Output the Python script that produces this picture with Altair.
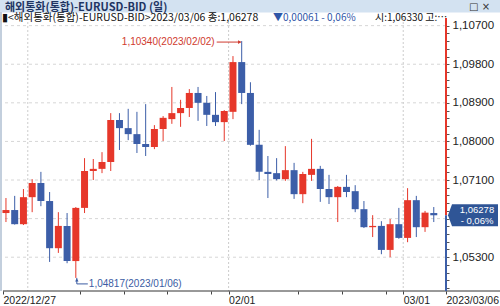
import altair as alt
import pandas as pd
import numpy as np

# ---------------- data ----------------
dates = ["2022/12/27", "2022/12/28", "2022/12/29", "2022/12/30",
         "2023/01/02", "2023/01/03", "2023/01/04", "2023/01/05", "2023/01/06",
         "2023/01/09", "2023/01/10", "2023/01/11", "2023/01/12", "2023/01/13",
         "2023/01/16", "2023/01/17", "2023/01/18", "2023/01/19", "2023/01/20",
         "2023/01/23", "2023/01/24", "2023/01/25", "2023/01/26", "2023/01/27",
         "2023/01/30", "2023/01/31", "2023/02/01", "2023/02/02", "2023/02/03",
         "2023/02/06", "2023/02/07", "2023/02/08", "2023/02/09", "2023/02/10",
         "2023/02/13", "2023/02/14", "2023/02/15", "2023/02/16", "2023/02/17",
         "2023/02/20", "2023/02/21", "2023/02/22", "2023/02/23", "2023/02/24",
         "2023/02/27", "2023/02/28", "2023/03/01", "2023/03/02", "2023/03/03",
         "2023/03/06"]
opens = [1.0633, 1.0640, 1.0607, 1.0670, 1.0703, 1.0661, 1.0551, 1.0603, 1.0521,
         1.0645, 1.0731, 1.0736, 1.0752, 1.0850, 1.0831, 1.0817, 1.0794, 1.0787,
         1.0829, 1.0852, 1.0866, 1.0878, 1.0913, 1.0890, 1.0862, 1.0845, 1.0869,
         1.0985, 1.0913, 1.0792, 1.0729, 1.0726, 1.0712, 1.0733, 1.0677, 1.0722,
         1.0736, 1.0689, 1.0670, 1.0694, 1.0684, 1.0642, 1.0600, 1.0603, 1.0547,
         1.0607, 1.0575, 1.0663, 1.0600, 1.06330]
highs = [1.0668, 1.0673, 1.0689, 1.0712, 1.0729, 1.0682, 1.0635, 1.0633, 1.0647,
         1.0761, 1.0759, 1.0775, 1.0866, 1.0866, 1.0876, 1.0869, 1.0887, 1.0838,
         1.0859, 1.0927, 1.0897, 1.0922, 1.0927, 1.0906, 1.0915, 1.0873, 1.0999,
         1.1034, 1.0938, 1.0827, 1.0766, 1.0761, 1.0789, 1.0750, 1.0729, 1.0806,
         1.0743, 1.0722, 1.0696, 1.0722, 1.0698, 1.0661, 1.0628, 1.0614, 1.0619,
         1.0645, 1.0691, 1.0673, 1.0638, 1.0647]
lows = [1.0612, 1.0606, 1.0605, 1.0635, 1.0649, 1.0519, 1.0540, 1.0516, 1.04817,
        1.0633, 1.0710, 1.0726, 1.0731, 1.0780, 1.0803, 1.0773, 1.0766, 1.0782,
        1.0801, 1.0841, 1.0834, 1.0857, 1.0848, 1.0836, 1.0836, 1.0801, 1.0852,
        1.0887, 1.0790, 1.0710, 1.0668, 1.0709, 1.0708, 1.0666, 1.0656, 1.0708,
        1.0659, 1.0654, 1.0612, 1.0670, 1.0635, 1.0598, 1.0577, 1.0537, 1.0530,
        1.0573, 1.0565, 1.0577, 1.0589, 1.0612]
closes = [1.0640, 1.0607, 1.0670, 1.0703, 1.0661, 1.0551, 1.0603, 1.0521, 1.0645,
          1.0731, 1.0736, 1.0752, 1.0850, 1.0831, 1.0817, 1.0794, 1.0787, 1.0829,
          1.0855, 1.0866, 1.0878, 1.0913, 1.0890, 1.0862, 1.0845, 1.0871, 1.0985,
          1.0913, 1.0792, 1.0729, 1.0724, 1.0712, 1.0733, 1.0677, 1.0724, 1.0736,
          1.0689, 1.0670, 1.0694, 1.0682, 1.0642, 1.0600, 1.0603, 1.0547, 1.0607,
          1.0575, 1.0663, 1.0600, 1.06339, 1.06278]

y_labels = [1.053, 1.062, 1.071, 1.080, 1.089, 1.098, 1.107]
y_minor_step = 0.0018
x_first_label = "2022/12/27"
x_last_label = "2023/03/06"
x_month_dates = ["2023/02/01", "2023/03/01"]
x_month_labels = ["02/01", "03/01"]
x_week_dates = ["2023/01/09", "2023/01/16", "2023/01/23", "2023/01/30",
                "2023/02/13", "2023/02/20", "2023/02/27"]
vgrid_dates = ["2022/12/30", "2023/02/01", "2023/03/01"]

title_text = "해외통화(통합)-EURUSD-BID (일)"
info_main = "▮<해외통화(통합)-EURUSD-BID>2023/03/06 종:1,06278"
info_change = "▼0,00061   - 0,06%"
info_rest = "시:1,06330 고:1,06470"
hi_date, hi_label = "2023/02/02", "1,10340(2023/02/02)"
lo_date, lo_label = "2023/01/06", "1,04817(2023/01/06)"
box_line1, box_line2 = "1,06278", "- 0,06%"

# ---------------- layout / style ----------------
W, H = 443, 273
Y_DOM = [1.04512, 1.10878]
X_DOM = [-0.34, 50.4]
RED = "#e6372a"
BLUE = "#3c5ea8"
HI_COL = "#cf3a2e"
LO_COL = "#3b5ca3"
BOX_COL = "#2f5596"
NUMF = "Liberation Sans"
KRF = "Noto Sans CJK KR"

idx = {d: i for i, d in enumerate(dates)}
df = pd.DataFrame({"date": dates, "open": opens, "high": highs,
                   "low": lows, "close": closes})
df["i"] = np.arange(len(df))
df["dir"] = np.where(df["close"] >= df["open"], "up", "down")

xs = alt.Scale(domain=X_DOM, nice=False, zero=False, padding=0)
ys = alt.Scale(domain=Y_DOM, nice=False, zero=False, padding=0)
col = alt.Color("dir:N", scale=alt.Scale(domain=["up", "down"], range=[RED, BLUE]),
                legend=None)

# x axis ticks / labels
x_pos_labels = [(X_DOM[0], x_first_label)] + \
    [(idx[d] - 0.5, l) for d, l in zip(x_month_dates, x_month_labels)] + \
    [(X_DOM[1], x_last_label)]
x_vals = [p for p, _ in x_pos_labels] + [idx[d] - 0.5 for d in x_week_dates]
x_expr = ""
for p, l in x_pos_labels:
    x_expr += f"datum.value == {p} ? '{l}' : "
x_expr += "''"
x_axis = alt.Axis(values=x_vals, labelExpr=x_expr, title=None, grid=False,
                  domain=False, tickSize=3, tickColor="#444", labelAlign="left",
                  labelFlush=False, labelOverlap=False, labelBound=False,
                  labelFont=NUMF, labelFontSize=10.5, labelColor="#222",
                  labelPadding=1)

# y axis with minor ticks
base = y_labels[0] - 5 * y_minor_step
y_vals = [round(base + k * y_minor_step, 4) for k in range(45)]
y_vals = [v for v in y_vals if Y_DOM[0] <= v <= Y_DOM[1]]
lab_strs = ",".join(f"'{v:.4f}'" for v in y_labels)
y_expr = (f"indexof([{lab_strs}], format(datum.value, '.4f')) >= 0 ? "
          "replace(format(datum.value, '.5f'), '.', ',') : ''")
y_axis = alt.Axis(orient="right", values=y_vals, labelExpr=y_expr, title=None,
                  grid=False, domain=False, tickSize=3, tickColor="#555",
                  labelFont=NUMF, labelFontSize=11.5, labelColor="#222",
                  labelPadding=3, labelOverlap=False, labelBound=False,
                  labelFlush=False)

X = alt.X("i:Q", scale=xs, axis=x_axis)


def Y(f):
    return alt.Y(f"{f}:Q", scale=ys, axis=y_axis)


one = pd.DataFrame({"k": [0]})

# gridlines
hgrid = alt.Chart(pd.DataFrame({"v": y_labels})).mark_rule(
    color="#d6d6d6", strokeDash=[3, 3], strokeWidth=1).encode(y=Y("v"))
vgrid = alt.Chart(pd.DataFrame({"xv": [idx[d] - 0.5 for d in vgrid_dates]})).mark_rule(
    color="#cccccc", strokeDash=[2, 2], strokeWidth=1).encode(
    x=alt.X("xv:Q", scale=xs, axis=x_axis))

base_c = alt.Chart(df)
wicks = base_c.mark_rule(strokeWidth=1).encode(x=X, y=Y("low"), y2="high:Q", color=col)
bodies = base_c.mark_bar(width=7).encode(x=X, y=Y("open"), y2="close:Q", color=col)

# annotations
hi_df = pd.DataFrame({"i": [idx[hi_date]], "v": [max(highs)], "t": [hi_label]})
lo_df = pd.DataFrame({"i": [idx[lo_date]], "v": [min(lows)], "t": [lo_label]})

hi_text = alt.Chart(hi_df).mark_text(align="right", baseline="middle", dx=-27, dy=1,
                                     font=NUMF, fontSize=10, color=HI_COL).encode(
    x=X, y=Y("v"), text="t:N")
hi_line = alt.Chart(hi_df).mark_rule(color=HI_COL, x2Offset=-25, xOffset=-1, yOffset=1,
                                     strokeWidth=1).encode(x=X, x2="i:Q", y=Y("v"))
hi_head = alt.Chart(hi_df).mark_point(shape="triangle-right", filled=True, size=14,
                                      color=HI_COL, opacity=1, xOffset=-2, yOffset=1).encode(
    x=X, y=Y("v"))

lo_text = alt.Chart(lo_df).mark_text(align="left", baseline="middle", dx=13, dy=6,
                                     font=NUMF, fontSize=10, color=LO_COL).encode(
    x=X, y=Y("v"), text="t:N")
lo_vline = alt.Chart(lo_df).mark_rule(color=LO_COL, y2Offset=6, xOffset=1,
                                      x2Offset=1, strokeWidth=1).encode(
    x=X, y=Y("v"), y2="v:Q")
lo_hline = alt.Chart(lo_df).mark_rule(color=LO_COL, yOffset=6, xOffset=1, x2Offset=12,
                                      strokeWidth=1).encode(x=X, x2="i:Q", y=Y("v"))
lo_head = alt.Chart(lo_df).mark_point(shape="triangle-up", filled=True, size=12,
                                      color=LO_COL, opacity=1, xOffset=1, yOffset=2).encode(
    x=X, y=Y("v"))

# right axis coloured line
ax_df = pd.DataFrame({"a": [Y_DOM[1], closes[-1]], "b": [closes[-1], Y_DOM[0]],
                      "dir": ["up", "down"]})
ax_line = alt.Chart(ax_df).mark_rule(strokeWidth=2).encode(
    x=alt.value(W), y=Y("a"), y2="b:Q", color=col)

# current price box
box_df = pd.DataFrame({"v": [closes[-1]], "t1": [box_line1], "t2": [box_line2]})
box_path = "M -1 0 L -0.84 -0.44 L 1 -0.44 L 1 0.44 L -0.84 0.44 Z"
box = alt.Chart(box_df).mark_point(shape=box_path, filled=True, size=2500,
                                   color=BOX_COL, opacity=1, strokeWidth=0).encode(
    x=alt.value(W + 27), y=Y("v"))
box_t1 = alt.Chart(box_df).mark_text(align="center", baseline="middle", dy=-5.5,
                                     font=NUMF, fontSize=9.5, color="white").encode(
    x=alt.value(W + 31), y=Y("v"), text="t1:N")
box_t2 = alt.Chart(box_df).mark_text(align="center", baseline="middle", dy=5.5,
                                     font=NUMF, fontSize=9.5, color="white").encode(
    x=alt.value(W + 31), y=Y("v"), text="t2:N")

# frame pieces
bottom_line = alt.Chart(one).mark_rule(color="#333", strokeWidth=1).encode(
    x=alt.value(0), x2=alt.value(497), y=alt.value(H))
left_strip = alt.Chart(one).mark_rule(color="#c3cfdd", strokeWidth=2,
                                      strokeCap="butt").encode(
    x=alt.value(-2), y=alt.value(-6), y2=alt.value(H))
title_bar = alt.Chart(one).mark_rule(color="#d3e2f1", strokeWidth=12.5,
                                     strokeCap="butt").encode(
    x=alt.value(-3), x2=alt.value(497), y=alt.value(-11.75))

hdr = pd.DataFrame({"t": [title_text], "a": [info_main], "b": [info_change],
                    "c": [info_rest], "d": ["□  ×"]})
title_t = alt.Chart(hdr).mark_text(align="left", baseline="alphabetic", font=KRF,
                                   fontWeight="bold", fontSize=11, color="#1f3563").encode(
    x=alt.value(2), y=alt.value(-7.5), text="t:N")
icons_t = alt.Chart(hdr).mark_text(align="left", baseline="alphabetic", font="DejaVu Sans",
                                   fontSize=10, color="#333").encode(
    x=alt.value(466), y=alt.value(-8.5), text="d:N")
info_a = alt.Chart(hdr).mark_text(align="left", baseline="alphabetic", font=KRF,
                                  fontSize=10.5, color="#111").encode(
    x=alt.value(-1), y=alt.value(2.5), text="a:N")
info_b = alt.Chart(hdr).mark_text(align="left", baseline="alphabetic", font=KRF,
                                  fontSize=10, color="#2f56a8").encode(
    x=alt.value(270), y=alt.value(2.5), text="b:N")
info_c = alt.Chart(hdr).mark_text(align="left", baseline="alphabetic", font=KRF,
                                  fontSize=10, color="#111", limit=76, ellipsis="").encode(
    x=alt.value(372), y=alt.value(2.5), text="c:N")

chart = alt.layer(
    title_bar, left_strip, hgrid, vgrid, wicks, bodies,
    hi_line, hi_head, hi_text, lo_vline, lo_hline, lo_head, lo_text,
    bottom_line, ax_line, box, box_t1, box_t2,
    title_t, icons_t, info_a, info_b, info_c
).properties(
    width=W, height=H, autosize="none",
    padding={"left": 3, "top": 18, "right": 54, "bottom": 15},
    background="white"
).configure_view(stroke=None)

chart.save("out.html", embed_options={"renderer": "svg", "actions": False})
